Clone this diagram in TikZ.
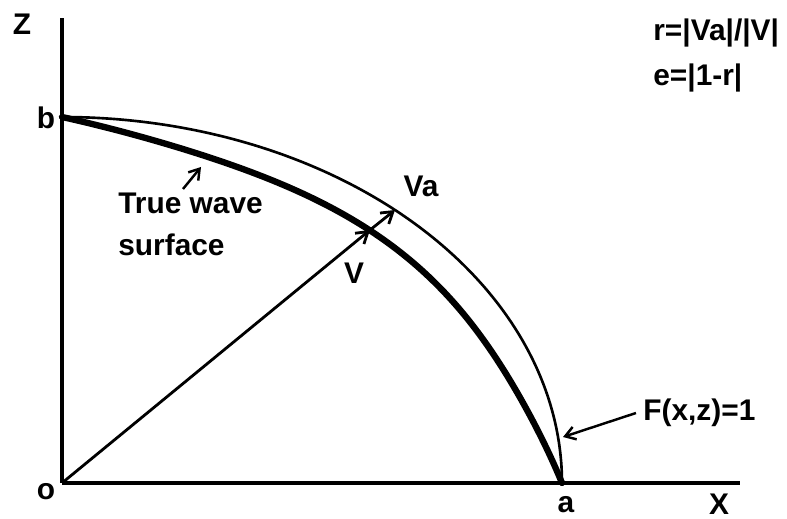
\documentclass[tikz,border=0pt]{standalone}
\usepackage{fontspec}
\setmainfont{Liberation Sans}
\usetikzlibrary{arrows.meta}

\begin{document}
\begin{tikzpicture}[
  x=0.02cm, y=-0.02cm,
  font=\fontsize{17}{21}\selectfont\bfseries,
  every node/.style={inner sep=0pt},
  axis/.style={line width=1.9pt},
  vec/.style={line width=1.6pt, -{Straight Barb[length=2.2mm, width=2.8mm]}},
  ptr/.style={line width=1.4pt, -{Straight Barb[length=2mm, width=2.6mm]}}
]
  \useasboundingbox (0,0) rectangle (787,519);
  \coordinate (o) at (62,483);
  \coordinate (ztop) at (62,18);
  \coordinate (xend) at (740,483);
  \coordinate (V) at (370,230);
  \coordinate (Va) at (395,210);
  \coordinate (ftip) at (563,437);
  \coordinate (wtail) at (183,189);
  \coordinate (whead) at (201,167);

  \draw[axis] (o) -- (ztop);
  \draw[axis, line width=2.2pt] (o) -- (xend);

  % F(x,z)=1 and the true wave surface
  \draw[line width=1.5pt] plot[domain=0:90, samples=60, smooth]
    ({62+500*cos(\x)}, {483-366*sin(\x)});
  \draw[line width=3.6pt, line cap=round] plot[domain=0:90, samples=90, smooth]
    ({62+500*cos(\x)*(1-0.075*(1-(1-sin(2*\x))^2))},
     {483-366*sin(\x)*(1-0.075*(1-(1-sin(2*\x))^2))});

  \draw[vec] (o) -- (V);
  \draw[vec] (V) -- (Va);

  \node (zl) at (22,24) {Z};
  \node (xl) at (719,504) {X};
  \node (bl) at (46,118) {b};
  \node (ol) at (46,492) {o};
  \node (al) at (566,505) {a};
  \node (vl) at (354,273) {V};
  \node (val) at (421,186) {Va};
  \node[anchor=west] (rdef) at (653,33) {r=|Va|/|V|};
  \node[anchor=west] (edef) at (653,78) {e=|1-r|};
  \node[anchor=west] (true) at (118,203) {True wave};
  \node[anchor=west] (surf) at (118,245) {surface};
  \node[anchor=west] (flabel) at (643,413) {F(x,z)=1};

  \draw[ptr] (wtail) -- (whead);
  \draw[ptr] (flabel.west) ++(-4pt,0) -- (ftip);
\end{tikzpicture}
\end{document}
